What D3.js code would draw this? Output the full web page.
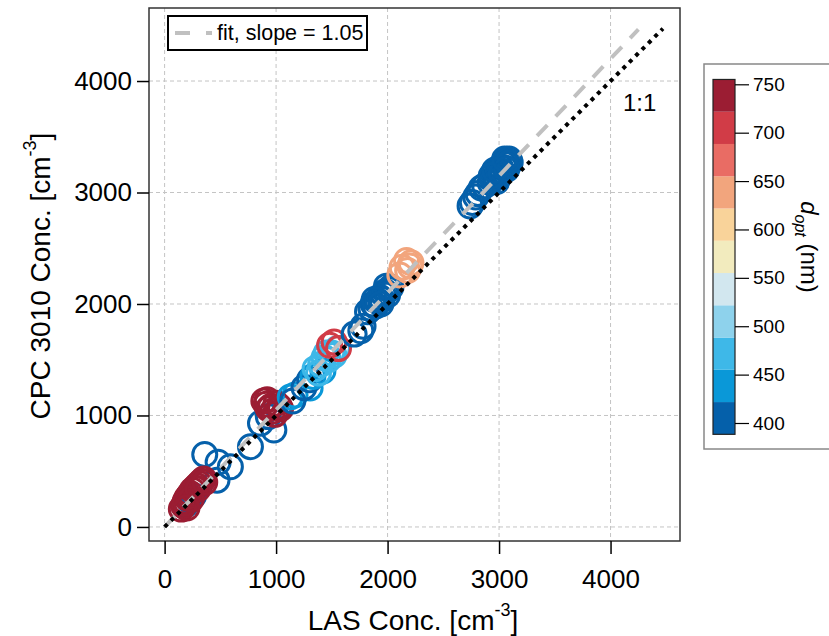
<!DOCTYPE html>
<html><head><meta charset="utf-8">
<script src="https://cdn.jsdelivr.net/npm/d3@7"></script>
<style>body{margin:0;background:#fff}svg{display:block;font-family:"Liberation Sans",Arial,sans-serif}</style>
</head><body><svg id="c" width="829" height="636"></svg>
<script>
// ---- data ----
const lasConc = [
  360,480,590,470,770,860,980,930,
  190,260,220,
  150,170,185,200,215,230,250,270,290,310,330,350,180,240,300,200,360,
  890,910,930,950,970,990,1000,1030,920,1040,
  1127,1170,1305,1150,1250,1300,1330,1420,
  1350,1400,1430,1470,1500,1550,1380,1450,1520,
  1480,1520,1560,
  1700,1760,1780,
  1820,1850,1870,1890,1910,1930,1950,1960,1980,2000,2010,2030,1990,1940,1880,
  2110,2130,2170,2210,2180,2200,
  2740,2760,2790,2810,2840,2870,
  2920,2940,2950,2970,2990,3000,3010,3030,3040,3050,3060,3080,3090,3100,2980,3020,2960,3070,2930,3050
];
const cpcConc = [
  650,580,540,420,720,930,870,990,
  200,280,240,
  160,190,230,260,280,300,330,350,370,390,410,430,210,250,340,170,400,
  1130,1100,1060,1080,1040,1010,1110,1080,1140,1060,
  1166,1184,1247,1130,1250,1320,1350,1400,
  1420,1460,1520,1500,1560,1600,1380,1560,1540,
  1630,1660,1600,
  1730,1760,1800,
  1930,1960,2000,1980,2030,2060,2040,2090,2110,2080,2130,2150,2160,2000,2040,
  2260,2330,2390,2370,2300,2340,
  2880,2910,2960,2990,3040,3060,
  3090,3120,3170,3140,3200,3150,3230,3190,3260,3220,3280,3250,3300,3270,3100,3170,3200,3210,3150,3300
];
const dOpt = [
  400,400,400,400,400,400,400,400,
  400,400,400,
  745,745,745,745,745,745,745,745,745,745,745,745,745,745,745,745,745,
  745,745,745,745,745,745,745,745,745,745,
  440,440,440,400,400,400,440,440,
  470,470,470,470,470,470,470,470,470,
  710,710,710,
  400,400,400,
  400,400,400,400,400,400,400,400,400,400,400,400,400,400,400,
  640,640,640,640,640,640,
  400,400,400,400,400,400,
  400,400,400,400,400,400,400,400,400,400,400,400,400,400,400,400,400,400,400,400
];
const axisTicks = [0,1000,2000,3000,4000];
const cbTicks = [400,450,500,550,600,650,700,750];
const cbColors = ["#0560AA","#0A98D8","#3EB8E8","#8ED2EC","#D2E7EF","#F2EBBE","#F9D39A","#F2A57D","#E96C64","#D13C47","#9B1D33"];
const fitSlope = 1.05;

// ---- layout ----
const FONT = '"Liberation Sans",Arial,sans-serif';
const svg = d3.select("#c");
const L = 149, R = 680, T = 8, B = 541;
const x = d3.scaleLinear().domain([-140, 4623]).range([L, R]);
const y = d3.scaleLinear().domain([-126, 4655]).range([B, T]);
const color = d3.scaleQuantize().domain([388.3, 755]).range(cbColors);

// grid
const g = svg.append("g");
g.selectAll(".gx").data(axisTicks).join("line")
  .attr("x1", d => x(d)).attr("x2", d => x(d)).attr("y1", T).attr("y2", B)
  .attr("stroke", "#c4c4c4").attr("stroke-width", 1).attr("stroke-dasharray", "4,3");
g.selectAll(".gy").data(axisTicks).join("line")
  .attr("y1", d => y(d)).attr("y2", d => y(d)).attr("x1", L).attr("x2", R)
  .attr("stroke", "#c4c4c4").attr("stroke-width", 1).attr("stroke-dasharray", "4,3");

// points
svg.append("g").selectAll("circle").data(lasConc.map((v, i) => [v, cpcConc[i], dOpt[i]]))
  .join("circle")
  .attr("cx", d => x(d[0])).attr("cy", d => y(d[1])).attr("r", 12)
  .attr("fill", "none").attr("stroke", d => color(d[2])).attr("stroke-width", 3);

// fit line and 1:1
const line = d3.line().x(d => x(d[0])).y(d => y(d[1]));
svg.append("path").attr("d", line([[0, 0], [4250, 4250 * fitSlope]]))
  .attr("stroke", "#c0c0c0").attr("stroke-width", 4).attr("fill", "none").attr("stroke-dasharray", "15,12");
svg.append("path").attr("d", line([[0, 0], [4470, 4470]]))
  .attr("stroke", "#000").attr("stroke-width", 4).attr("fill", "none").attr("stroke-dasharray", "4,5");

// frame
svg.append("rect").attr("x", L).attr("y", T).attr("width", R - L).attr("height", B - T)
  .attr("fill", "none").attr("stroke", "#333").attr("stroke-width", 1.5);

// axes ticks
const xa = svg.append("g").attr("transform", `translate(0,${B})`)
  .call(d3.axisBottom(x).tickValues(axisTicks).tickSize(13).tickPadding(16).tickFormat(d3.format("d")));
const ya = svg.append("g").attr("transform", `translate(${L},0)`)
  .call(d3.axisLeft(y).tickValues(axisTicks).tickSize(12).tickPadding(5).tickFormat(d3.format("d")));
[xa, ya].forEach(a => {
  a.select(".domain").remove();
  a.selectAll("line").attr("stroke", "#000").attr("stroke-width", 1.5);
  a.selectAll("text").attr("font-size", 26).attr("fill", "#000").attr("font-family", FONT);
});

// axis titles
const xt = svg.append("text").attr("x", 413).attr("y", 630).attr("text-anchor", "middle")
  .attr("font-size", 28).attr("fill", "#000");
xt.append("tspan").text("LAS Conc. [cm");
xt.append("tspan").attr("font-size", 18).attr("dy", -14).text("-3");
xt.append("tspan").attr("dy", 14).text("]");

const yt = svg.append("text").attr("transform", "translate(50,276) rotate(-90)").attr("text-anchor", "middle")
  .attr("font-size", 28).attr("fill", "#000");
yt.append("tspan").text("CPC 3010 Conc. [cm");
yt.append("tspan").attr("font-size", 18).attr("dy", -14).text("-3");
yt.append("tspan").attr("dy", 14).text("]");

// 1:1 label
svg.append("text").attr("x", 623).attr("y", 111).attr("font-size", 24).attr("fill", "#000").text("1:1");

// legend
svg.append("rect").attr("x", 168).attr("y", 16).attr("width", 199).attr("height", 34)
  .attr("fill", "#fff").attr("stroke", "#000").attr("stroke-width", 2);
svg.append("line").attr("x1", 175).attr("x2", 212).attr("y1", 33).attr("y2", 33)
  .attr("stroke", "#c0c0c0").attr("stroke-width", 4).attr("stroke-dasharray", "15,16");
svg.append("text").attr("x", 217).attr("y", 40).attr("font-size", 21.5).attr("fill", "#000").text("fit, slope = 1.05");

// colorbar
svg.append("rect").attr("x", 704).attr("y", 64).attr("width", 140).attr("height", 385)
  .attr("fill", "#fff").attr("stroke", "#888").attr("stroke-width", 1.5);
const cy = d3.scaleLinear().domain([400, 750]).range([423, 84.3]);
const cbG = svg.append("g");
const bins = d3.range(cbColors.length).map(i => {
  const ext = color.invertExtent(cbColors[i]);
  return {c: cbColors[i], lo: ext[0], hi: ext[1]};
});
cbG.selectAll("rect").data(bins).join("rect")
  .attr("x", 713).attr("width", 22)
  .attr("y", d => cy(d.hi)).attr("height", d => cy(d.lo) - cy(d.hi))
  .attr("fill", d => d.c);
cbG.append("rect").attr("x", 713).attr("width", 22).attr("y", cy(755)).attr("height", cy(388.3) - cy(755))
  .attr("fill", "none").attr("stroke", "#222").attr("stroke-width", 1.2);
const cba = svg.append("g").attr("transform", "translate(735,0)")
  .call(d3.axisRight(cy).tickValues(cbTicks).tickSize(14).tickPadding(4));
cba.select(".domain").remove();
cba.selectAll("line").attr("stroke", "#000").attr("stroke-width", 1.2);
cba.selectAll("text").attr("font-size", 19).attr("fill", "#000").attr("font-family", FONT);

const ct = svg.append("text").attr("transform", "translate(801,247) rotate(90)").attr("text-anchor", "middle")
  .attr("font-size", 24).attr("fill", "#000");
ct.append("tspan").attr("font-style", "italic").text("d");
ct.append("tspan").attr("font-style", "italic").attr("font-size", 16).attr("dy", 6).text("opt");
ct.append("tspan").attr("dy", -6).text(" (nm)");
</script></body></html>
